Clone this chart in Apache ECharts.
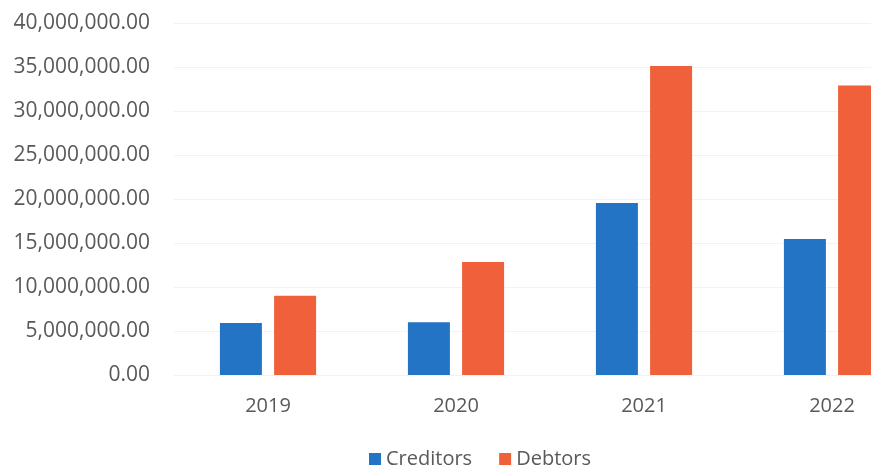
<!DOCTYPE html>
<html><head><meta charset="utf-8">
<script src="https://cdn.jsdelivr.net/npm/echarts@6/dist/echarts.min.js"></script>
<style>html,body{margin:0;padding:0;background:#fff}#c{width:871px;height:470px}</style>
</head><body><div id="c"></div>
<script>
const categories = ['2019', '2020', '2021', '2022'];
const creditors = [5900000, 6000000, 19550000, 15450000];
const debtors = [9000000, 12850000, 35100000, 32900000];
const seriesNames = ['Creditors', 'Debtors'];

const chart = echarts.init(document.getElementById('c'), null, {renderer: 'canvas'});
const font = '"Open Sans", "Noto Sans", sans-serif';
chart.setOption({
  animation: false,
  textStyle: {fontFamily: font},
  grid: {left: 174, top: 23, width: 752, height: 352, containLabel: false, outerBoundsMode: 'none'},
  legend: {
    data: seriesNames, left: 364, top: 444, itemWidth: 12, itemHeight: 12, itemGap: 27,
    icon: 'rect', textStyle: {fontSize: 20, color: '#595959', fontFamily: font}
  },
  xAxis: {
    type: 'category', data: categories,
    axisLine: {show: false}, axisTick: {show: false},
    axisLabel: {fontSize: 20, color: '#595959', margin: 21, fontFamily: font}
  },
  yAxis: {
    type: 'value', min: 0, max: 40000000, interval: 5000000,
    axisLabel: {
      fontSize: 21, color: '#595959', margin: 24, fontFamily: font,
      formatter: v => v.toLocaleString('en-US', {minimumFractionDigits: 2, maximumFractionDigits: 2})
    },
    splitLine: {lineStyle: {color: '#f2f2f2', width: 1}}
  },
  series: [
    {name: seriesNames[0], type: 'bar', data: creditors, barWidth: 42, barGap: '29%', itemStyle: {color: '#2474c6'}},
    {name: seriesNames[1], type: 'bar', data: debtors, barWidth: 42, itemStyle: {color: '#f0603a'}}
  ]
});
</script></body></html>
